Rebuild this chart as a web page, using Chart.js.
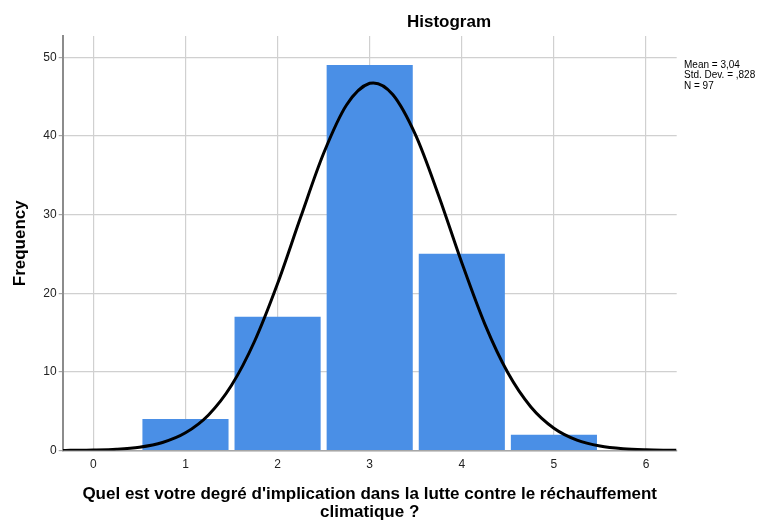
<!DOCTYPE html>
<html><head><meta charset="utf-8">
<script src="https://cdn.jsdelivr.net/npm/chart.js@4"></script>
<style>html,body{margin:0;padding:0;background:#fff}#wrap{width:768px;height:520px;position:relative}</style>
</head><body><div id="wrap"><canvas id="c" width="768" height="520"></canvas></div>
<script>
// Histogram data
const binCenters = [1, 2, 3, 4, 5];
const frequencies = [4, 17, 49, 25, 2];
// Normal curve
const curveX = [-0.33, -0.25, 0, 0.25, 0.5, 0.75, 1, 1.25, 1.5, 1.75, 2, 2.25, 2.5, 2.75, 3, 3.04, 3.25, 3.5, 3.75, 4, 4.25, 4.5, 4.75, 5, 5.25, 5.5, 5.75, 6, 6.25, 6.33];
const curveY = [0.01, 0.02, 0.06, 0.16, 0.42, 1.02, 2.25, 4.52, 8.29, 13.89, 21.23, 29.65, 37.79, 43.96, 46.69, 46.74, 45.26, 40.06, 32.36, 23.87, 16.07, 9.88, 5.54, 2.84, 1.33, 0.57, 0.22, 0.08, 0.03, 0.02];
const xTicks = [0, 1, 2, 3, 4, 5, 6];
const yTicks = [0, 10, 20, 30, 40, 50];
const titleText = "Histogram";
const xTitle = ["Quel est votre degré d'implication dans la lutte contre le réchauffement", "climatique ?"];
const yTitle = "Frequency";
const statsLines = ["Mean = 3,04", "Std. Dev. = ,828", "N = 97"];

const textPlugin = {
  id: 'texts',
  afterDraw(chart) {
    const ctx = chart.ctx, a = chart.chartArea;
    ctx.save();
    ctx.fillStyle = '#000';
    ctx.textBaseline = 'middle';
    ctx.textAlign = 'center';
    ctx.font = 'bold 17px "Liberation Sans", Arial, sans-serif';
    ctx.fillText(titleText, 449, 22);
    ctx.font = 'bold 17px "Liberation Sans", Arial, sans-serif';
    const cx = (a.left + a.right) / 2;
    ctx.fillText(xTitle[0], cx, 494);
    ctx.fillText(xTitle[1], cx, 512);
    ctx.save();
    ctx.translate(20, (a.top + a.bottom) / 2);
    ctx.rotate(-Math.PI / 2);
    ctx.fillText(yTitle, 0, 0);
    ctx.restore();
    ctx.textAlign = 'left';
    ctx.font = '10px "Liberation Sans", Arial, sans-serif';
    statsLines.forEach((s, i) => ctx.fillText(s, 684, 65 + i * 10.5));
    ctx.restore();
  }
};

new Chart(document.getElementById('c'), {
  type: 'bar',
  data: {
    datasets: [
      {
        type: 'line',
        data: curveX.map((x, i) => ({x: x, y: curveY[i]})),
        borderColor: '#000',
        borderWidth: 3,
        pointRadius: 0,
        cubicInterpolationMode: 'monotone',
        fill: false,
        order: 0
      },
      {
        type: 'bar',
        data: binCenters.map((x, i) => ({x: x, y: frequencies[i]})),
        backgroundColor: '#4a8fe6',
        borderWidth: 0,
        barPercentage: 1,
        categoryPercentage: 0.935,
        order: 1
      }
    ]
  },
  options: {
    responsive: false,
    animation: false,
    layout: {padding: {left: 0, top: 36, right: 91.3, bottom: 0}},
    plugins: {legend: {display: false}, tooltip: {enabled: false}, title: {display: false}},
    scales: {
      x: {
        type: 'linear',
        min: -0.333, max: 6.333,
        offset: false,
        afterFit(s) { s.height = 69.5; },
        afterBuildTicks(s) { s.ticks = xTicks.map(v => ({value: v})); },
        grid: {offset: false, color: '#d0d0d0', lineWidth: 1.2, drawTicks: false},
        border: {color: '#a6a6a6', width: 1.5},
        ticks: {padding: 7, color: '#222', font: {size: 12, family: '"Liberation Sans", Arial, sans-serif'}}
      },
      y: {
        type: 'linear',
        min: 0, max: 52.7,
        afterFit(s) { s.width = 62.7; },
        afterBuildTicks(s) { s.ticks = yTicks.map(v => ({value: v})); },
        grid: {color: '#d0d0d0', lineWidth: 1.2, drawTicks: true, tickLength: 4, tickColor: '#a6a6a6'},
        border: {color: '#8c8c8c', width: 2},
        ticks: {padding: 2, color: '#222', font: {size: 12, family: '"Liberation Sans", Arial, sans-serif'}}
      }
    }
  },
  plugins: [textPlugin]
});
</script></body></html>
